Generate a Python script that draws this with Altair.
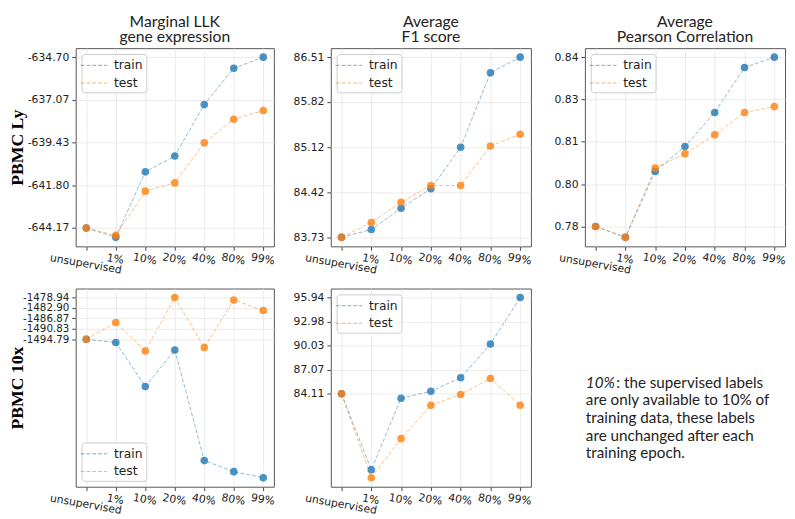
import altair as alt
import pandas as pd

categories = ["unsupervised", "1%", "10%", "20%", "40%", "80%", "99%"]
series_names = ["train", "test"]
series_colors = ["#1f77b4", "#ff7f0e"]

# PBMC Ly
ly_llk_train = [-644.17, -644.69, -641.06, -640.18, -637.33, -635.31, -634.70]
ly_llk_test = [-644.17, -644.58, -642.13, -641.67, -639.45, -638.14, -637.66]
ly_llk_ticks = [-644.17, -641.80, -639.43, -637.07, -634.70]

ly_f1_train = [83.73, 83.85, 84.18, 84.48, 85.12, 86.27, 86.51]
ly_f1_test = [83.73, 83.96, 84.27, 84.53, 84.53, 85.14, 85.32]
ly_f1_ticks = [83.73, 84.42, 85.12, 85.82, 86.51]

ly_corr_train = [0.7800, 0.7761, 0.7997, 0.8086, 0.8208, 0.8369, 0.8406]
ly_corr_test = [0.7800, 0.7761, 0.8009, 0.8060, 0.8128, 0.8208, 0.8229]
ly_corr_ticks = [0.7800, 0.79515, 0.8103, 0.82545, 0.8406]

# PBMC 10x
tx_llk_train = [-1494.79, -1496.04, -1512.77, -1498.86, -1540.90, -1545.10, -1547.40]
tx_llk_test = [-1494.79, -1488.44, -1499.24, -1478.94, -1497.95, -1479.85, -1483.88]
tx_llk_ticks = [-1494.79, -1490.83, -1486.87, -1482.90, -1478.94]

tx_f1_train = [84.11, 74.78, 83.57, 84.43, 86.08, 90.22, 95.94]
tx_f1_test = [84.11, 73.80, 78.60, 82.71, 84.02, 86.00, 82.71]
tx_f1_ticks = [84.11, 87.07, 90.03, 92.98, 95.94]

col_titles = [["Marginal LLK", "gene expression"], ["Average", "F1 score"],
              ["Average", "Pearson Correlation"]]
row_titles = ["PBMC Ly", "PBMC 10x"]

note_prefix = "10%"
note_first = ": the supervised labels"
note_lines = ["are only available to 10% of", "training data, these labels",
              "are unchanged after each", "training epoch."]

TITLE_FONT = "Lato"
TICK_FONT = "DejaVu Sans"
LABEL_EXPR = "replace(format(datum.value, '.2f'), '\u2212', '-')"
LEGEND_LINE = "M-1.7,0L1.7,0"


def panel(train, test, ticks, title=None, row_title=None, legend_orient="top-left",
          width=204, extent=41, label_size=11):
    df = pd.DataFrame({
        "setting": categories * 2,
        "series": [series_names[0]] * len(categories) + [series_names[1]] * len(categories),
        "value": list(train) + list(test),
    })
    allv = list(train) + list(test)
    lo, hi = min(allv), max(allv)
    r = hi - lo
    dom = [lo - 0.05 * r, hi + 0.05 * r]

    yaxis_kw = dict(values=ticks, labelExpr=LABEL_EXPR, grid=True, tickSize=4,
                    labelPadding=3, labelOverlap=False, labelFont=TICK_FONT,
                    labelFontSize=label_size, labelColor="#222222",
                    minExtent=extent, maxExtent=extent, domain=False)
    if row_title is not None:
        yaxis_kw.update(title=row_title, titleFont="Liberation Serif", titleFontSize=18,
                        titleFontWeight="bold", titleColor="black", titlePadding=2)
    else:
        yaxis_kw.update(title=None)

    x = alt.X("setting:N", sort=categories,
              scale=alt.Scale(type="point", padding=0.36),
              axis=alt.Axis(title=None, labelAngle=10, labelAlign="center",
                            labelBaseline="top", tickSize=4, grid=True, domain=False,
                            labelFont=TICK_FONT, labelFontSize=11, labelColor="#222222",
                            labelOverlap=False,
                            labelPadding={"condition": {"test": "datum.value == 'unsupervised'",
                                                        "value": 8}, "value": 3}))
    y = alt.Y("value:Q", scale=alt.Scale(domain=dom, nice=False, zero=False),
              axis=alt.Axis(**yaxis_kw))
    cscale = alt.Scale(domain=series_names, range=series_colors)

    lines = alt.Chart(df).mark_line(strokeDash=[4, 2], strokeWidth=1, opacity=0.5).encode(
        x=x, y=y,
        color=alt.Color("series:N", scale=cscale,
                        legend=alt.Legend(title=None, orient=legend_orient, offset=6,
                                          symbolType=LEGEND_LINE, symbolDash=[4, 2],
                                          symbolStrokeWidth=1, symbolSize=256,
                                          symbolOpacity=0.6, symbolOffset=1,
                                          labelFont=TICK_FONT, labelFontSize=12.5,
                                          labelColor="#222", labelOffset=12,
                                          padding=3, rowPadding=3,
                                          strokeColor="#cccccc", fillColor="white",
                                          cornerRadius=3)),
    )
    points = alt.Chart(df).mark_point(filled=True, size=60, opacity=0.8).encode(
        x=x, y=y,
        color=alt.Color("series:N", scale=cscale, legend=None),
    )
    ch = alt.layer(lines, points).properties(width=width, height=202)
    if title is not None:
        ch = ch.properties(title=alt.Title(title, font=TITLE_FONT, fontSize=16,
                                           fontWeight="normal", color="#222",
                                           lineHeight=16, offset=3, anchor="middle"))
    return ch


ny = alt.Y("line:Q", scale=alt.Scale(domain=[-5.33, 5.89], reverse=True, nice=False, zero=False),
           axis=None)
note_rest = alt.Chart(pd.DataFrame({"line": list(range(1, len(note_lines) + 1)),
                                    "text": note_lines})).mark_text(
    align="left", baseline="middle", font=TITLE_FONT, fontSize=15.5, color="#222"
).encode(y=ny, text="text:N", x=alt.value(39))
note_head = alt.Chart(pd.DataFrame({"line": [0], "text": [note_first]})).mark_text(
    align="left", baseline="middle", font=TITLE_FONT, fontSize=15.5, color="#222"
).encode(y=ny, text="text:N", x=alt.value(70))
note_pre = alt.Chart(pd.DataFrame({"line": [0], "text": [note_prefix]})).mark_text(
    align="left", baseline="middle", font=TITLE_FONT, fontSize=15.5, fontStyle="italic",
    color="#222"
).encode(y=ny, text="text:N", x=alt.value(39))
note = alt.layer(note_rest, note_head, note_pre).properties(
    width=204, height=202, view=alt.ViewBackground(stroke="transparent"))

top = alt.hconcat(
    panel(ly_llk_train, ly_llk_test, ly_llk_ticks, col_titles[0], row_titles[0],
          width=202, extent=48),
    panel(ly_f1_train, ly_f1_test, ly_f1_ticks, col_titles[1], extent=41),
    panel(ly_corr_train, ly_corr_test, ly_corr_ticks, col_titles[2], extent=38),
    spacing=14,
).resolve_scale(color="independent").resolve_legend(color="independent")

bottom = alt.hconcat(
    panel(tx_llk_train, tx_llk_test, tx_llk_ticks, None, row_titles[1],
          legend_orient="bottom-left", width=202, extent=48, label_size=10.5),
    panel(tx_f1_train, tx_f1_test, tx_f1_ticks, None, extent=41),
    note,
    spacing=14,
).resolve_scale(color="independent").resolve_legend(color="independent")

chart = alt.vconcat(top, bottom, spacing=12).resolve_scale(
    color="independent").resolve_legend(color="independent").properties(
    padding=0
).configure(font=TICK_FONT).configure_view(stroke="#555555", strokeWidth=1).configure_axis(
    labelFont=TICK_FONT, labelFontSize=11, labelColor="#222222",
    tickColor="#444444", gridColor="#e6e6e6", gridWidth=0.8
)

chart.save("out.html", embed_options={"renderer": "svg", "actions": False})
